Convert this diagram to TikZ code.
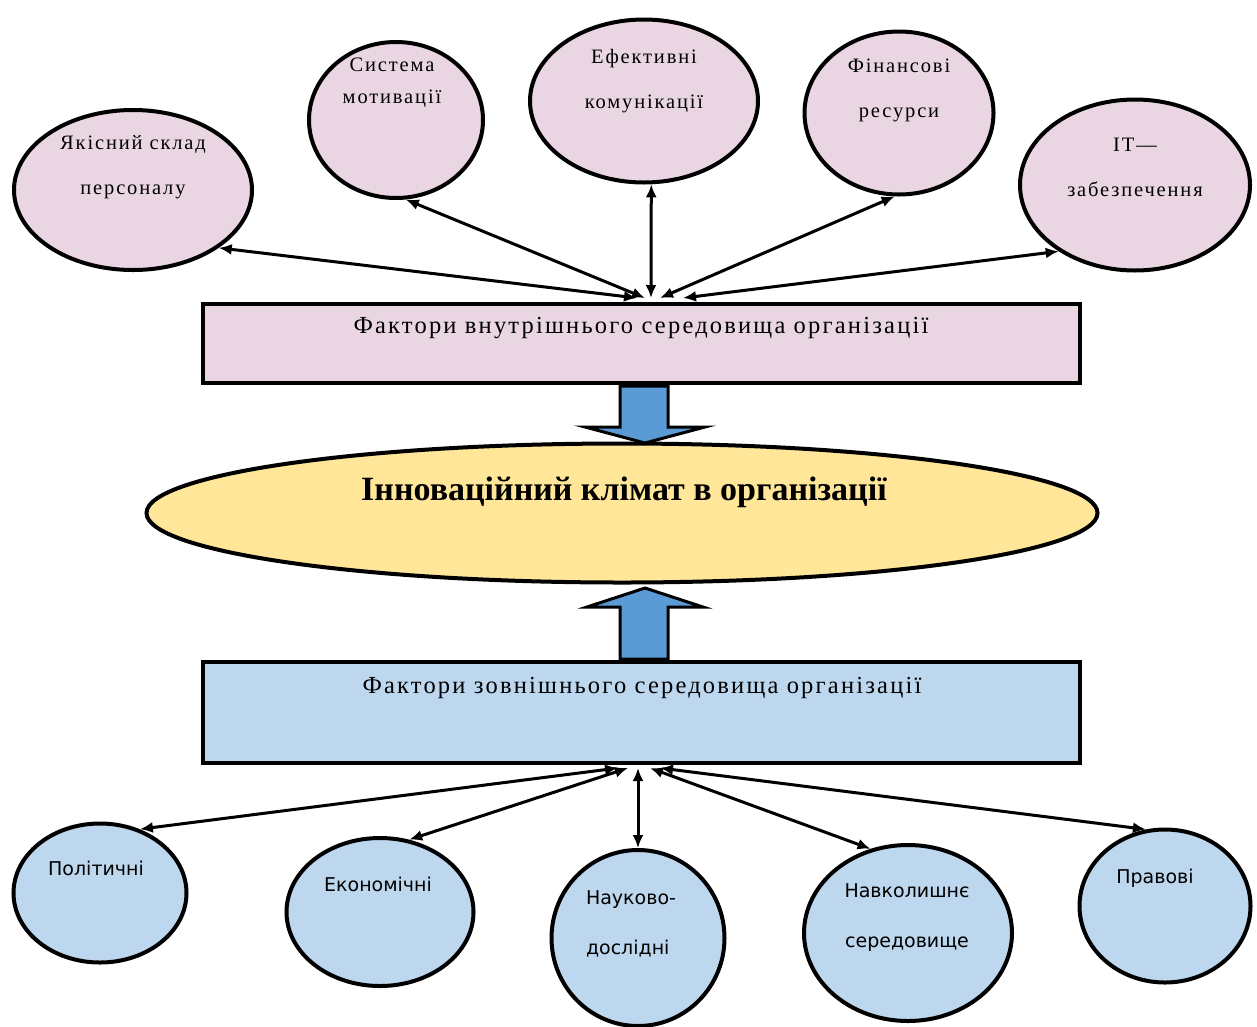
\documentclass[tikz,border=0pt]{standalone}
\usepackage{fontspec}
\setmainfont{Liberation Serif}
\newfontfamily\wideserif{Liberation Serif}[LetterSpace=9]
\newfontfamily\uasans{DejaVu Sans}
\usetikzlibrary{shapes.geometric,arrows.meta}

\definecolor{inpink}{RGB}{234,214,226}
\definecolor{exblue}{RGB}{189,215,238}
\definecolor{climyellow}{RGB}{255,230,153}
\definecolor{flowblue}{RGB}{91,155,213}

\tikzset{
  oval/.style={ellipse, draw, line width=4pt, inner sep=0pt},
  inoval/.style={oval, fill=inpink},
  exoval/.style={oval, fill=exblue},
  factorbox/.style={rectangle, draw, line width=4pt, inner sep=0pt, minimum width=877pt},
  intext/.style={align=center, inner sep=0pt, font=\wideserif\fontsize{20.5}{45}\selectfont},
  extext/.style={align=center, inner sep=0pt, font=\uasans\fontsize{19}{50}\selectfont},
  boxtext/.style={inner sep=0pt, font=\wideserif\fontsize{24.5}{28}\selectfont},
  link/.style={line width=3pt, {Latex[length=13pt,width=11pt]}-{Latex[length=13pt,width=11pt]}},
  blockarrow/.style={draw, line width=3pt, line join=miter, fill=flowblue}
}

\begin{document}
\begin{tikzpicture}[x=1pt, y=-1pt]

  %% ════ 内部因素：椭圆 ════
  \node[inoval, minimum width=238pt, minimum height=160pt] (in1) at (133,190) {};
  \node[inoval, minimum width=174pt, minimum height=156pt] (in2) at (396,120) {};
  \node[inoval, minimum width=228pt, minimum height=163pt] (in3) at (644,101) {};
  \node[inoval, minimum width=189pt, minimum height=163pt] (in4) at (899,113) {};
  \node[inoval, minimum width=230pt, minimum height=171pt] (in5) at (1135,185) {};

  \node[intext] (in1t) at (133,167) {Якісний склад\\персоналу};
  \node[intext, font=\wideserif\fontsize{20.5}{32}\selectfont] (in2t) at (392,83) {Система\\мотивації};
  \node[intext] (in3t) at (644,81) {Ефективні\\комунікації};
  \node[intext] (in4t) at (899,90) {Фінансові\\ресурси};
  \node[intext] (in5t) at (1135,167) {IT—\\забезпечення};

  %% ════ 三个主块 ════
  \node[factorbox, fill=inpink, minimum height=79pt] (inbox) at (641.5,343.5) {};
  \node[boxtext] (inboxt) at (641,328) {Фактори внутрішнього середовища організації};

  \node[oval, fill=climyellow, minimum width=951pt, minimum height=139pt] (climate) at (622,513) {};
  \node[inner sep=0pt, font=\fontsize{34}{40}\selectfont\bfseries] (climatet) at (624,492) {Інноваційний клімат в організації};

  \node[factorbox, fill=exblue, minimum height=101pt] (exbox) at (641.5,712.5) {};
  \node[boxtext] (exboxt) at (642,688) {Фактори зовнішнього середовища організації};

  %% ════ 外部因素：椭圆 ════
  \node[exoval, minimum width=173pt, minimum height=139pt] (ex1) at (100,893) {};
  \node[exoval, minimum width=187pt, minimum height=148pt] (ex2) at (380,912) {};
  \node[exoval, minimum width=173pt, minimum height=176pt] (ex3) at (638,938) {};
  \node[exoval, minimum width=208pt, minimum height=176pt] (ex4) at (908,933) {};
  \node[exoval, minimum width=171pt, minimum height=153pt] (ex5) at (1165,906) {};

  \node[extext] (ex1t) at (96,868) {Політичні};
  \node[extext] (ex2t) at (378,884) {Економічні};
  \node[extext, align=left] (ex3t) at (631,924) {Науково-\\дослідні};
  \node[extext] (ex4t) at (907,918) {Навколишнє\\середовище};
  \node[extext] (ex5t) at (1155,878) {Правові};

  %% ════ 双向箭头（汇聚到矩形边上）════
  \coordinate (hub1) at (637,298);
  \coordinate (hub2) at (645,298);
  \coordinate (hub3) at (651,298);
  \coordinate (hub4) at (660,298);
  \coordinate (hub5) at (683,298);
  \draw[link] (in1.-34) -- (hub1);
  \draw[link] (in2.-83) -- (hub2);
  \draw[link] (in3.-85) -- (hub3);
  \draw[link] (in4.-93) -- (hub4);
  \draw[link] (in5.-139) -- (hub5);

  \coordinate (foot1) at (618,768);
  \coordinate (foot2) at (628,768);
  \coordinate (foot3) at (638,768);
  \coordinate (foot4) at (650,768);
  \coordinate (foot5) at (660,768);
  \draw[link] (ex1.58) -- (foot1);
  \draw[link] (ex2.68) -- (foot2);
  \draw[link] (ex3.north) -- (foot3);
  \draw[link] (ex4.114) -- (foot4);
  \draw[link] (ex5.104) -- (foot5);

  %% ════ 粗箭头：两类因素 → 创新氛围 ════
  \draw[blockarrow] (620,386) -- (668,386) -- (668,427) -- (705,427) -- (645,443)
                    -- (585,427) -- (620,427) -- cycle;
  \draw[blockarrow] (620,659) -- (668,659) -- (668,607) -- (703,607) -- (645,588)
                    -- (587,607) -- (620,607) -- cycle;

  % 钉死画布
  \pgfresetboundingbox
  \path[use as bounding box] (0,0) rectangle (1257,1026);
\end{tikzpicture}
\end{document}
